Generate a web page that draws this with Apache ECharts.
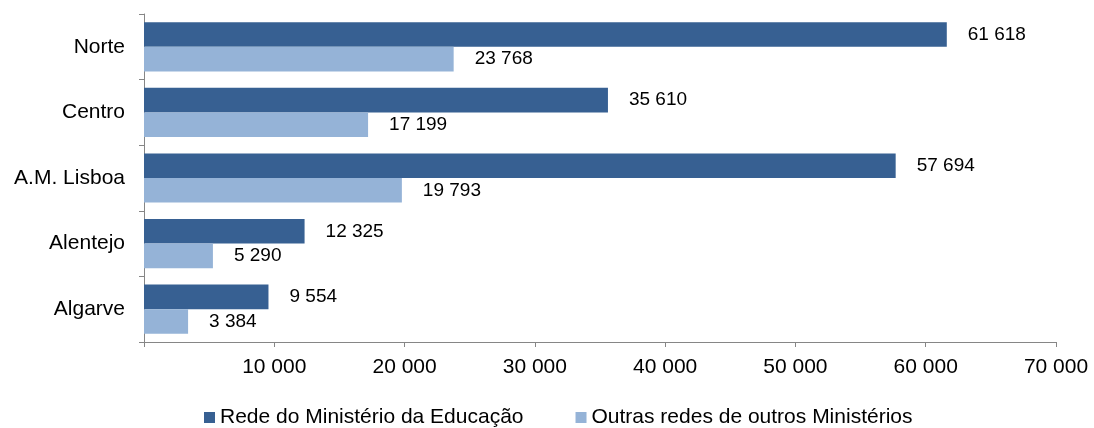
<!DOCTYPE html>
<html>
<head>
<meta charset="utf-8">
<script src="https://cdn.jsdelivr.net/npm/echarts@6/dist/echarts.min.js"></script>
<style>
  html, body { margin: 0; padding: 0; background: #fff; }
  #chart { width: 1094px; height: 428px; }
</style>
</head>
<body>
<div id="chart"></div>
<script>
// regiões (de cima para baixo)
var regioes = ['Norte', 'Centro', 'A.M. Lisboa', 'Alentejo', 'Algarve'];
var redeME = [61618, 35610, 57694, 12325, 9554];
var outrasRedes = [23768, 17199, 19793, 5290, 3384];
var nomesSeries = ['Rede do Ministério da Educação', 'Outras redes de outros Ministérios'];
var eixoMin = 0, eixoMax = 70000, eixoPasso = 10000;

// 61618 -> "61 618"
function fmt(v) {
  return String(v).replace(/\B(?=(\d{3})+(?!\d))/g, ' ');
}

var chart = echarts.init(document.getElementById('chart'));
var fonte = 'Liberation Sans, Arial, sans-serif';

var option = {
  backgroundColor: '#ffffff',
  animation: false,
  textStyle: { fontFamily: fonte },
  grid: {
    left: 144,
    right: 38,
    top: 14,
    bottom: 86,
    containLabel: false
  },
  legend: {
    top: 402,
    left: 199,
    icon: 'rect',
    itemWidth: 11,
    itemHeight: 11,
    itemGap: 52,
    textStyle: { fontSize: 21, color: '#000', fontFamily: fonte },
    data: nomesSeries
  },
  xAxis: {
    type: 'value',
    min: eixoMin,
    max: eixoMax,
    interval: eixoPasso,
    splitLine: { show: false },
    axisLine: { show: true, lineStyle: { color: '#868686', width: 1 } },
    axisTick: { show: true, length: 5, lineStyle: { color: '#868686' } },
    axisLabel: {
      fontSize: 21,
      color: '#000',
      margin: 15,
      formatter: function (v) { return v === 0 ? '' : fmt(v); }
    }
  },
  yAxis: {
    type: 'category',
    inverse: true,
    data: regioes,
    axisLine: { show: true, lineStyle: { color: '#868686', width: 1 } },
    axisTick: { show: true, length: 5, lineStyle: { color: '#868686' } },
    axisLabel: { fontSize: 21, color: '#000', margin: 19 }
  },
  series: [
    {
      name: nomesSeries[0],
      type: 'bar',
      data: redeME,
      barGap: '0%',
      barCategoryGap: '25%',
      itemStyle: { color: '#376092' },
      label: {
        show: true,
        position: 'right',
        distance: 21,
        fontSize: 19,
        color: '#000',
        formatter: function (p) { return fmt(p.value); }
      }
    },
    {
      name: nomesSeries[1],
      type: 'bar',
      data: outrasRedes,
      barGap: '0%',
      barCategoryGap: '25%',
      itemStyle: { color: '#95b3d7' },
      label: {
        show: true,
        position: 'right',
        distance: 21,
        fontSize: 19,
        color: '#000',
        formatter: function (p) { return fmt(p.value); }
      }
    }
  ]
};

chart.setOption(option);
</script>
</body>
</html>
